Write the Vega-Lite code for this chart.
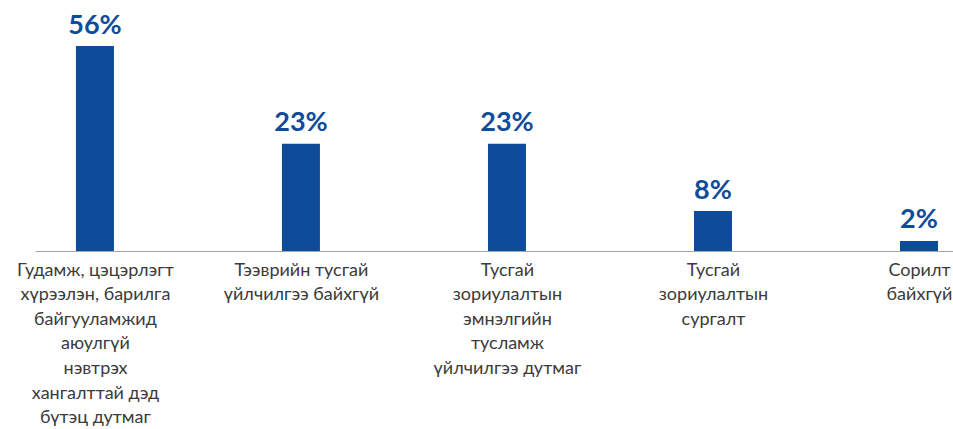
{
  "$schema": "https://vega.github.io/schema/vega-lite/v6.json",
  "width": 918,
  "height": 205,
  "autosize": {"type": "none"},
  "padding": {"left": 35, "top": 46, "right": 0, "bottom": 178},
  "background": "white",
  "config": {"view": {"stroke": null}, "font": "Lato"},
  "data": {
    "values": [
      {"category": "Гудамж, цэцэрлэгт|хүрээлэн, барилга|байгууламжид|аюулгүй|нэвтрэх|хангалттай дэд|бүтэц дутмаг", "bar": 56, "label": "56%"},
      {"category": "Тээврийн тусгай|үйлчилгээ байхгүй", "bar": 29.3, "label": "23%"},
      {"category": "Тусгай|зориулалтын|эмнэлгийн|тусламж|үйлчилгээ дутмаг", "bar": 29.3, "label": "23%"},
      {"category": "Тусгай|зориулалтын|сургалт", "bar": 10.9, "label": "8%"},
      {"category": "Сорилт|байхгүй", "bar": 2.75, "label": "2%"}
    ]
  },
  "encoding": {
    "x": {
      "field": "category",
      "type": "nominal",
      "sort": null,
      "scale": {"type": "point", "padding": 0.228, "align": 0.638},
      "axis": {
        "title": null,
        "labelAngle": 0,
        "labelExpr": "split(datum.label, '|')",
        "labelFont": "Lato",
        "labelFontSize": 18,
        "labelColor": "#3b3b3b",
        "labelLineHeight": 24.6,
        "labelBaseline": "top",
        "labelPadding": 10,
        "labelOverlap": false,
        "labelBound": false,
        "labelFlush": false,
        "labelLimit": 0,
        "ticks": false,
        "tickSize": 0,
        "grid": false,
        "domainColor": "#a6a6a6",
        "domainWidth": 1.2
      }
    },
    "y": {
      "field": "bar",
      "type": "quantitative",
      "scale": {"domain": [0, 56], "nice": false},
      "axis": null
    }
  },
  "layer": [
    {"mark": {"type": "bar", "width": 38, "color": "#0E4C99"}},
    {
      "mark": {"type": "text", "baseline": "alphabetic", "dy": -12.5, "font": "Lato", "fontWeight": "bold", "fontSize": 27, "color": "#0E4C99"},
      "encoding": {"text": {"field": "label"}}
    }
  ]
}
